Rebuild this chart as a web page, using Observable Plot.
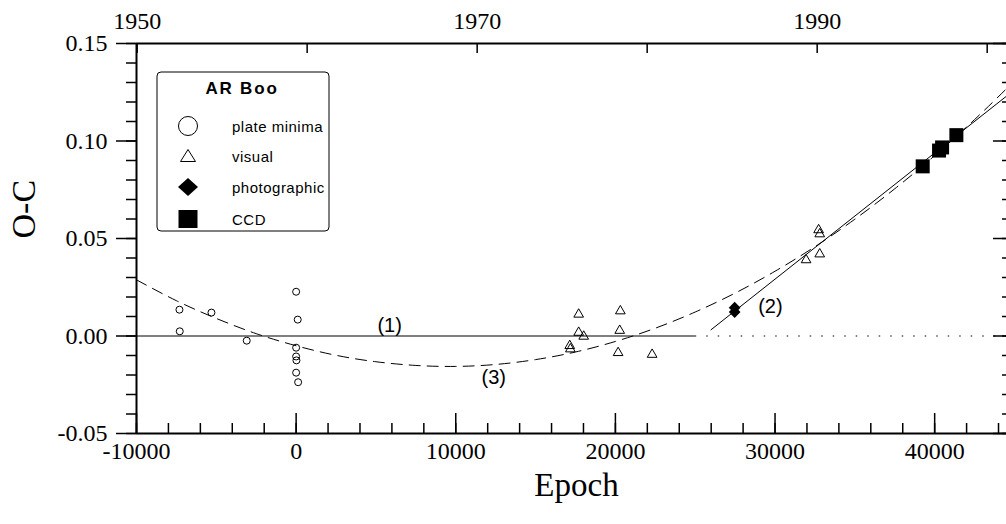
<!DOCTYPE html>
<html><head><meta charset="utf-8">
<script src="https://cdn.jsdelivr.net/npm/d3@7"></script>
<script src="https://cdn.jsdelivr.net/npm/@observablehq/plot@0.6"></script>
<style>html,body{margin:0;padding:0;background:#fff;overflow:hidden}</style>
</head><body><div id="chart"></div>
<script>
// ---- data ----
const plateEpoch = [-7310, -7290, -5305, -3095, 0, 100, 0, 0, 20, 0, 125];
const plateOC    = [0.0135, 0.0024, 0.0120, -0.0024, 0.0227, 0.0084, -0.0060, -0.0105, -0.0125, -0.0188, -0.0237];
const visualEpoch = [17700, 17700, 18015, 17140, 17180, 20310, 20270, 20170, 22300, 31945, 32730, 32800, 32800];
const visualOC    = [0.0111, 0.0018, -0.0002, -0.0050, -0.0067, 0.0128, 0.0028, -0.0086, -0.0095, 0.0390, 0.0544, 0.0523, 0.0420];
const photoEpoch = [27470, 27470];
const photoOC    = [0.0145, 0.0123];
const ccdEpoch = [39250, 40275, 40465, 41360];
const ccdOC    = [0.0870, 0.0951, 0.0967, 0.1030];
// fitted curves as drawn
const fit3Epoch = [-10000, -7500, -5000, -2500, 0, 2500, 5000, 7500, 10000, 12500, 15000, 17500, 20000, 22500, 25000, 27500, 30000, 32500, 35000, 37500, 40000, 42500, 44500];
const fit3OC    = [0.0288, 0.0181, 0.0090, 0.0012, -0.0050, -0.0099, -0.0132, -0.0151, -0.0156, -0.0146, -0.0121, -0.0082, -0.0028, 0.0040, 0.0123, 0.0220, 0.0332, 0.0458, 0.0599, 0.0755, 0.0925, 0.1110, 0.1268];
const fit2Epoch = [25990, 44500];
const fit2OC    = [0.0032, 0.1230];
const fit1Solid = [-10000, 25000];
const fit1Dotted = [25000, 44500];
const fitLabels = ["(1)", "(2)", "(3)"];
const fitLabelEpoch = [5860, 29710, 12380];
const fitLabelOC = [0.0054, 0.0152, -0.0214];
// axes
const xMajor = [-10000, 0, 10000, 20000, 30000, 40000];
const xMinor = d3.range(-10000, 44001, 2000);
const yMajor = [-0.05, 0, 0.05, 0.10, 0.15];
const yMinor = d3.range(-5, 16, 1).map(d => d / 100);
const years = [1950, 1960, 1970, 1980, 1990, 2000];
const yearLabels = [1950, 1970, 1990];
const epochAt1950 = -9960, epochsPerYear = 1065;
const yearEpoch = y => epochAt1950 + (y - 1950) * epochsPerYear;
const legendItems = ["plate minima", "visual", "photographic", "CCD"];

const zip = (xs, ys) => xs.map((x, i) => ({epoch: x, oc: ys[i]}));
const plate = zip(plateEpoch, plateOC);
const visual = zip(visualEpoch, visualOC);
const photo = zip(photoEpoch, photoOC);
const ccd = zip(ccdEpoch, ccdOC);
const fit3 = zip(fit3Epoch, fit3OC);
const fit2 = zip(fit2Epoch, fit2OC);
const labels = fitLabels.map((t, i) => ({t, epoch: fitLabelEpoch[i], oc: fitLabelOC[i]}));

const W = 1006, H = 524, mT = 43, mB = 91, mL = 136, mR = 0;
const innerW = W - mL - mR, innerH = H - mT - mB;
const serif = "'Liberation Serif', 'Times New Roman', serif";
const sans = "'Liberation Sans', Arial, sans-serif";

const svg = Plot.plot({
  width: W, height: H,
  marginTop: mT, marginBottom: mB, marginLeft: mL, marginRight: mR,
  style: {fontFamily: serif, background: "white", color: "black", overflow: "visible"},
  x: {domain: [-10000, 44500]},
  y: {domain: [-0.05, 0.15]},
  marks: [
    // zero line (1)
    Plot.ruleY([{oc: 0, a: fit1Solid[0], b: fit1Solid[1]}], {y: "oc", x1: "a", x2: "b", stroke: "black", strokeWidth: 1}),
    Plot.ruleY([{oc: 0, a: fit1Dotted[0], b: fit1Dotted[1]}], {y: "oc", x1: "a", x2: "b", stroke: "black", strokeWidth: 1.2, strokeDasharray: "1.5,10"}),
    // parabola (3)
    Plot.line(fit3, {x: "epoch", y: "oc", curve: "natural", stroke: "black", strokeWidth: 1, strokeDasharray: "11,7"}),
    // line (2)
    Plot.line(fit2, {x: "epoch", y: "oc", stroke: "black", strokeWidth: 1}),
    // data
    Plot.dot(plate, {x: "epoch", y: "oc", r: 3.5, stroke: "black", fill: "none", strokeWidth: 1}),
    Plot.dot(visual, {x: "epoch", y: "oc", symbol: "triangle", r: 3.6, stroke: "black", fill: "none", strokeWidth: 1}),
    Plot.dot(photo, {x: "epoch", y: "oc", symbol: "diamond2", r: 5.3, fill: "black", stroke: "none"}),
    Plot.dot(ccd, {x: "epoch", y: "oc", symbol: "square", r: 7.9, fill: "black", stroke: "none"}),
    // fit labels
    Plot.text(labels, {x: "epoch", y: "oc", text: "t", fontFamily: sans, fontSize: 20, fill: "black"}),
    // frame
    Plot.ruleY([-0.05, 0.15], {stroke: "black", strokeWidth: 2}),
    Plot.ruleX([-10000], {stroke: "black", strokeWidth: 2}),
    // left axis (outward ticks)
    Plot.axisY(yMajor, {tickSize: 20, tickPadding: 9, tickFormat: d => d.toFixed(2), fontSize: 24, label: null, strokeWidth: 1.5}),
    Plot.axisY(yMinor, {tickSize: 10, tickFormat: () => "", label: null, strokeWidth: 1.5}),
    // right inward ticks
    Plot.ruleY(yMajor, {insetLeft: innerW - 13, stroke: "black", strokeWidth: 1.5}),
    Plot.ruleY(yMinor, {insetLeft: innerW - 4, stroke: "black", strokeWidth: 1.5}),
    // bottom axis (inward ticks)
    Plot.ruleX(xMajor, {insetTop: innerH - 20, stroke: "black", strokeWidth: 1.5}),
    Plot.ruleX(xMinor, {insetTop: innerH - 10, stroke: "black", strokeWidth: 1.5}),
    Plot.axisX(xMajor, {tickSize: 0, tickPadding: 8, tickFormat: d => String(d), fontSize: 24, label: null}),
    // top axis: years
    Plot.ruleX(years.map(yearEpoch), {insetBottom: innerH - 10, stroke: "black", strokeWidth: 1.5}),
    Plot.text(yearLabels, {x: yearEpoch, text: d => String(d), frameAnchor: "top", lineAnchor: "bottom", dy: -15, fontSize: 24, fill: "black"}),
    // axis titles
    Plot.text(["O-C"], {frameAnchor: "left", dx: -112, rotate: -90, fontSize: 34, fill: "black"}),
    Plot.text(["Epoch"], {frameAnchor: "bottom", dx: 5, dy: 62, fontSize: 33, fill: "black"})
  ]
});

// legend box
const g = d3.select(svg).append("g").attr("font-family", sans).attr("fill", "black");
g.append("rect").attr("x", 157).attr("y", 72).attr("width", 172).attr("height", 159)
  .attr("rx", 4).attr("fill", "white").attr("stroke", "black").attr("stroke-width", 1);
g.append("text").attr("x", 242).attr("y", 88).attr("text-anchor", "middle").attr("dominant-baseline", "central")
  .attr("font-weight", "bold").attr("font-size", 17).attr("letter-spacing", 1.8).text("AR Boo");
const rowY = [126, 156.5, 187, 219];
const sx = 188;
g.append("circle").attr("cx", sx).attr("cy", rowY[0]).attr("r", 9.5).attr("fill", "none").attr("stroke", "black");
g.append("path").attr("d", `M${sx},${rowY[1] - 7}L${sx + 7.5},${rowY[1] + 5}L${sx - 7.5},${rowY[1] + 5}Z`).attr("fill", "none").attr("stroke", "black");
g.append("path").attr("d", `M${sx},${rowY[2] - 9}L${sx + 10},${rowY[2]}L${sx},${rowY[2] + 9}L${sx - 10},${rowY[2]}Z`).attr("fill", "black");
g.append("rect").attr("x", sx - 9.5).attr("y", rowY[3] - 9).attr("width", 19).attr("height", 18).attr("fill", "black");
legendItems.forEach((t, i) => {
  g.append("text").attr("x", 232).attr("y", rowY[i]).attr("text-anchor", "start").attr("dominant-baseline", "central")
    .attr("font-size", 15).attr("letter-spacing", 0.5).text(t);
});

document.getElementById("chart").append(svg);
</script>
</body></html>
